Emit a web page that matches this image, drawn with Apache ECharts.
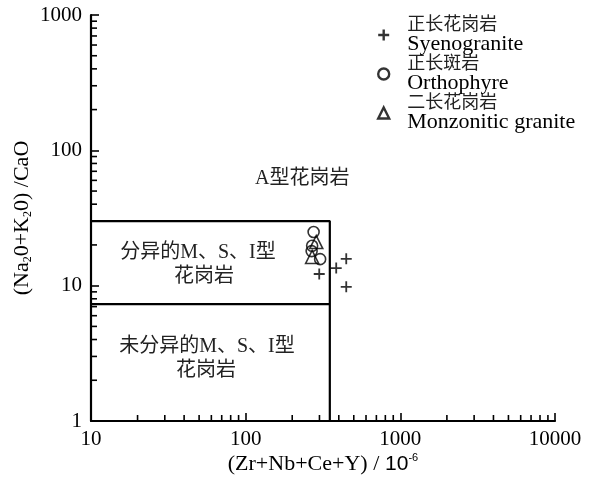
<!DOCTYPE html>
<html>
<head>
<meta charset="utf-8">
<script src="https://cdn.jsdelivr.net/npm/echarts@6/dist/echarts.min.js"></script>
<style>
  html, body { margin: 0; padding: 0; background: #fff; }
  #chart { width: 590px; height: 477px; }
</style>
</head>
<body>
<div id="chart"></div>
<script>
// (Zr+Nb+Ce+Y) vs (Na2O+K2O)/CaO discrimination plot

// Sample points
const syenograniteX = [299, 385, 447, 447];
const syenograniteY = [12.2, 13.5, 15.8, 9.8];
const orthophyreX = [275, 269, 267, 303];
const orthophyreY = [24.9, 19.7, 18.0, 15.7];
const monzoniticX = [286, 269];
const monzoniticY = [21.0, 16.3];

// Field boundaries
const upperBoundX = [10, 350, 350];
const upperBoundY = [30, 30, 1];
const lowerBoundX = [10, 350];
const lowerBoundY = [7.3, 7.3];

// Axis ranges and ticks
const xRange = [10, 10000];
const yRange = [1, 1000];
const xMinorTicks = [20, 30, 40, 50, 60, 70, 80, 90,
                     200, 300, 400, 500, 600, 700, 800, 900,
                     2000, 3000, 4000, 5000, 6000, 7000, 8000, 9000];
const yMinorTicks = [2, 3, 4, 5, 6, 7, 8, 9,
                     20, 30, 40, 50, 60, 70, 80, 90,
                     200, 300, 400, 500, 600, 700, 800, 900];

// Legend names
const seriesNames = ['Syenogranite', 'Orthophyre', 'Monzonitic granite'];
const seriesNamesCn = ['正长花岗岩', '正长斑岩', '二长花岗岩'];

const SERIF = "'Liberation Serif', 'Noto Sans CJK SC', serif";
const CJK = "'Liberation Serif', 'Noto Sans CJK SC', sans-serif";
const SANS = "'Liberation Sans', Arial, sans-serif";
const PLUS = 'path://M5,0L5,10M0,5L10,5';

const zip = (xs, ys) => xs.map((x, i) => [x, ys[i]]);

const hollow = { color: 'rgba(0,0,0,0)', borderColor: '#000', borderWidth: 1.6 };
const legendIconStyle = { color: 'rgba(0,0,0,0)', borderColor: '#000', borderWidth: 2.4 };

function tickSeries(values, horizontal) {
  return {
    type: 'custom',
    silent: true,
    clip: false,
    data: values.map(v => horizontal ? [v, yRange[0]] : [xRange[0], v]),
    renderItem: (params, api) => {
      const p = api.coord([api.value(0), api.value(1)]);
      const len = 6;
      return {
        type: 'line',
        shape: horizontal
          ? { x1: p[0], y1: p[1], x2: p[0], y2: p[1] - len }
          : { x1: p[0], y1: p[1], x2: p[0] + len, y2: p[1] },
        style: { stroke: '#000', lineWidth: 1.6 }
      };
    }
  };
}

const chart = echarts.init(document.getElementById('chart'));

chart.setOption({
  animation: false,
  backgroundColor: '#fff',
  grid: { left: 91, right: 35, top: 15, bottom: 56, containLabel: false, outerBoundsMode: 'none' },
  xAxis: {
    type: 'log',
    logBase: 10,
    min: xRange[0],
    max: xRange[1],
    splitLine: { show: false },
    axisLine: { lineStyle: { color: '#000', width: 2.2 } },
    axisTick: { inside: true, length: 8, lineStyle: { color: '#000', width: 1.6 } },
    axisLabel: { color: '#000', fontFamily: SERIF, fontSize: 21, margin: 8, formatter: v => String(v) },
    name: '{s|(Zr+Nb+Ce+Y) /}{a| 10}{sup|-6}',
    nameLocation: 'middle',
    nameGap: 31,
    nameMoveOverlap: false,
    nameTextStyle: {
      rich: {
        s: { fontFamily: SERIF, fontSize: 22, color: '#000', lineHeight: 24 },
        a: { fontFamily: SANS, fontSize: 21, color: '#000', lineHeight: 24 },
        sup: { fontFamily: SANS, fontSize: 11, color: '#000', verticalAlign: 'top', lineHeight: 24 }
      }
    }
  },
  yAxis: {
    type: 'log',
    logBase: 10,
    min: yRange[0],
    max: yRange[1],
    splitLine: { show: false },
    axisLine: { lineStyle: { color: '#000', width: 2.2 } },
    axisTick: { inside: true, length: 8, lineStyle: { color: '#000', width: 1.6 } },
    axisLabel: { color: '#000', fontFamily: SERIF, fontSize: 21, margin: 9, formatter: v => String(v) },
    name: '{s|(Na}{sub|2}{s|0+K}{sub|2}{s|0) /CaO}',
    nameLocation: 'middle',
    nameRotate: 90,
    nameGap: 57,
    nameMoveOverlap: false,
    nameTextStyle: {
      rich: {
        s: { fontFamily: SERIF, fontSize: 22, color: '#000', lineHeight: 24 },
        sub: { fontFamily: SERIF, fontSize: 12, color: '#000', verticalAlign: 'bottom', lineHeight: 24 }
      }
    }
  },
  legend: {
    orient: 'vertical',
    left: 372,
    top: 11,
    itemWidth: 11,
    itemHeight: 11,
    itemGap: 0,
    selectedMode: false,
    data: [
      { name: seriesNames[0], icon: PLUS, itemStyle: legendIconStyle },
      { name: seriesNames[1], icon: 'circle', itemStyle: legendIconStyle },
      { name: seriesNames[2], icon: 'triangle', itemStyle: legendIconStyle }
    ],
    formatter: name => '{cn|' + seriesNamesCn[seriesNames.indexOf(name)] + '}\n{en|' + name + '}',
    textStyle: {
      padding: [0, 0, 0, 13],
      rich: {
        cn: { fontFamily: CJK, fontSize: 18, color: '#222', lineHeight: 18 },
        en: { fontFamily: SERIF, fontSize: 22, color: '#000', lineHeight: 20 }
      }
    }
  },
  graphic: [
    { type: 'text', left: 255, top: 169, style: { text: 'A型花岗岩', font: "20px " + CJK, fill: '#222' } },
    { type: 'text', x: 198, y: 253, style: { text: '分异的M、S、I型', font: "20px " + CJK, fill: '#222', align: 'center', verticalAlign: 'middle' } },
    { type: 'text', x: 204, y: 277, style: { text: '花岗岩', font: "20px " + CJK, fill: '#222', align: 'center', verticalAlign: 'middle' } },
    { type: 'text', x: 207, y: 347, style: { text: '未分异的M、S、I型', font: "20px " + CJK, fill: '#222', align: 'center', verticalAlign: 'middle' } },
    { type: 'text', x: 206, y: 371, style: { text: '花岗岩', font: "20px " + CJK, fill: '#222', align: 'center', verticalAlign: 'middle' } }
  ],
  series: [
    {
      type: 'line', silent: true, symbol: 'none',
      data: zip(upperBoundX, upperBoundY),
      lineStyle: { color: '#000', width: 2.2 }
    },
    {
      type: 'line', silent: true, symbol: 'none',
      data: zip(lowerBoundX, lowerBoundY),
      lineStyle: { color: '#000', width: 2.2 }
    },
    tickSeries(xMinorTicks, true),
    tickSeries(yMinorTicks, false),
    {
      name: seriesNames[0], type: 'scatter', symbol: PLUS, symbolSize: 11,
      data: zip(syenograniteX, syenograniteY),
      itemStyle: { color: 'rgba(0,0,0,0)', borderColor: '#000', borderWidth: 1.8 }, z: 5
    },
    {
      name: seriesNames[1], type: 'scatter', symbol: 'circle', symbolSize: 11,
      data: zip(orthophyreX, orthophyreY),
      itemStyle: hollow, z: 5
    },
    {
      name: seriesNames[2], type: 'scatter', symbol: 'triangle', symbolSize: 13,
      data: zip(monzoniticX, monzoniticY),
      itemStyle: hollow, z: 5
    }
  ]
});
</script>
</body>
</html>
